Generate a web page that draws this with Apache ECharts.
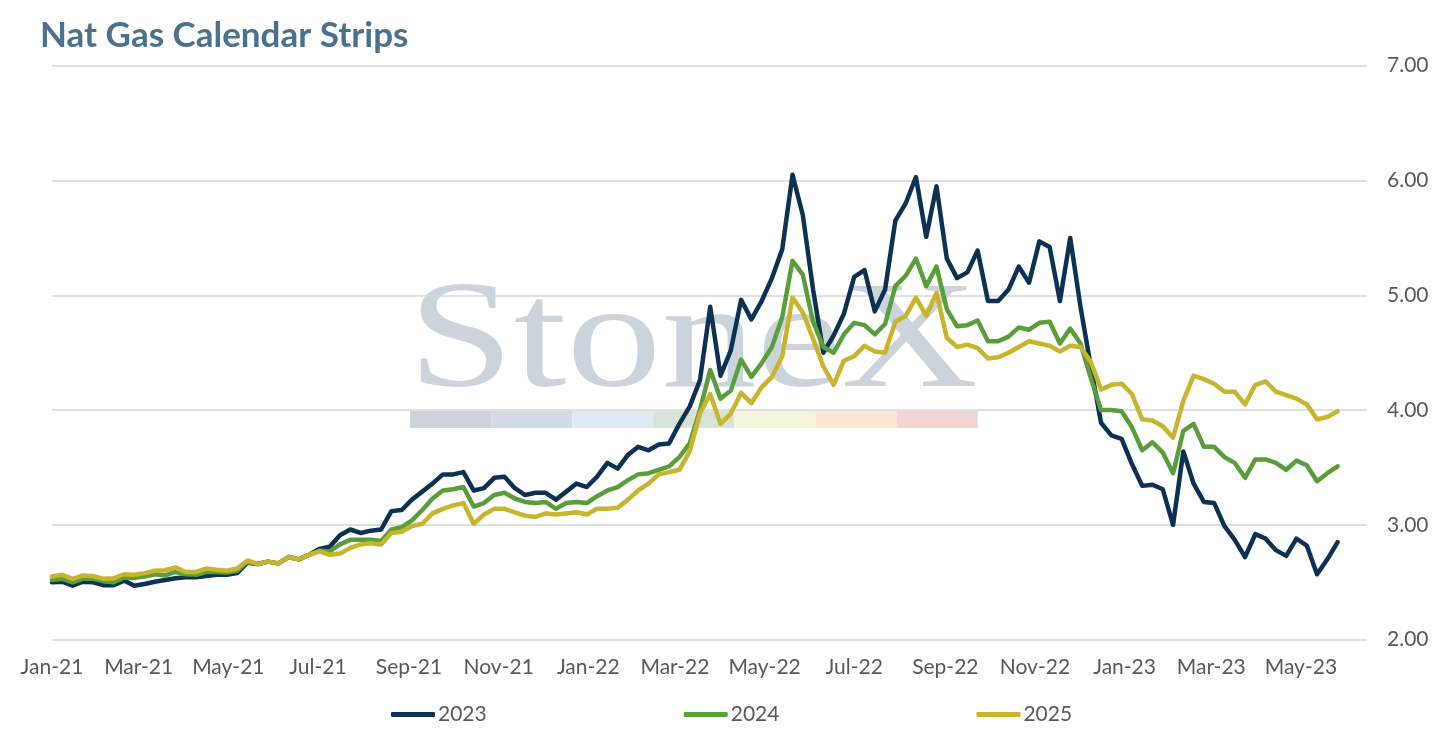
<!DOCTYPE html>
<html>
<head>
<meta charset="utf-8">
<script src="https://cdn.jsdelivr.net/npm/echarts@6/dist/echarts.min.js"></script>
<style>html,body{margin:0;padding:0;background:#fff;}#c{width:1450px;height:732px;}</style>
</head>
<body>
<div id="c"></div>
<script>
// ---- data (weekly samples starting 2021-01-01) ----
const startDate = '2021-01-01';
const stepDays = 7;
const seriesNames = ['2023', '2024', '2025'];
const cal2023 = [2.50,2.505,2.47,2.505,2.50,2.475,2.475,2.515,2.47,2.485,2.505,2.52,2.535,2.543,2.543,2.555,2.565,2.565,2.58,2.67,
2.66,2.68,2.665,2.72,2.70,2.74,2.79,2.81,2.91,2.96,2.93,2.95,2.96,3.12,3.13,3.22,3.29,3.36,3.44,3.44,
3.46,3.30,3.32,3.41,3.42,3.32,3.26,3.28,3.28,3.22,3.29,3.36,3.33,3.42,3.54,3.49,3.61,3.68,3.65,3.70,
3.71,3.88,4.03,4.26,4.90,4.30,4.52,4.96,4.79,4.95,5.15,5.40,6.05,5.70,5.05,4.50,4.65,4.84,5.16,5.22,
4.86,5.05,5.65,5.80,6.03,5.51,5.95,5.32,5.15,5.20,5.39,4.95,4.95,5.05,5.25,5.11,5.47,5.42,4.95,5.50,
4.90,4.38,3.89,3.78,3.75,3.53,3.34,3.35,3.31,3.00,3.64,3.36,3.20,3.19,2.99,2.87,2.72,2.92,2.88,2.78,
2.73,2.88,2.82,2.57,2.70,2.85];
const cal2024 = [2.52,2.53,2.50,2.53,2.53,2.51,2.50,2.54,2.54,2.55,2.57,2.56,2.59,2.57,2.565,2.59,2.59,2.585,2.60,2.68,
2.66,2.68,2.665,2.72,2.70,2.74,2.775,2.77,2.83,2.87,2.87,2.87,2.86,2.96,2.98,3.04,3.13,3.23,3.30,3.31,
3.33,3.16,3.19,3.26,3.28,3.23,3.20,3.19,3.20,3.14,3.19,3.20,3.19,3.25,3.30,3.33,3.39,3.44,3.45,3.48,
3.51,3.59,3.71,4.00,4.35,4.10,4.17,4.44,4.29,4.41,4.55,4.81,5.30,5.18,4.77,4.55,4.50,4.66,4.76,4.74,
4.66,4.75,5.08,5.17,5.32,5.08,5.25,4.88,4.73,4.74,4.78,4.60,4.60,4.64,4.72,4.70,4.76,4.77,4.58,4.71,
4.58,4.28,4.00,4.00,3.99,3.85,3.65,3.72,3.63,3.45,3.82,3.88,3.68,3.68,3.59,3.54,3.41,3.57,3.57,3.54,
3.48,3.56,3.52,3.38,3.45,3.51];
const cal2025 = [2.55,2.565,2.53,2.56,2.555,2.53,2.535,2.57,2.565,2.58,2.60,2.605,2.63,2.59,2.59,2.62,2.61,2.60,2.62,2.69,
2.66,2.68,2.665,2.72,2.70,2.74,2.77,2.74,2.75,2.80,2.83,2.84,2.83,2.93,2.94,2.99,3.01,3.10,3.14,3.17,
3.19,3.01,3.09,3.14,3.14,3.11,3.08,3.07,3.10,3.09,3.10,3.11,3.09,3.14,3.14,3.15,3.22,3.30,3.36,3.44,
3.46,3.48,3.64,3.97,4.14,3.88,3.97,4.15,4.06,4.20,4.29,4.47,4.98,4.85,4.62,4.38,4.22,4.43,4.47,4.56,
4.51,4.50,4.77,4.82,4.98,4.82,5.02,4.63,4.55,4.57,4.54,4.45,4.46,4.50,4.55,4.60,4.58,4.56,4.51,4.56,
4.55,4.42,4.18,4.22,4.23,4.14,3.92,3.91,3.86,3.76,4.08,4.30,4.27,4.23,4.16,4.16,4.05,4.22,4.25,4.16,
4.13,4.10,4.05,3.92,3.94,3.99];
const xTickLabels = ['Jan-21','Mar-21','May-21','Jul-21','Sep-21','Nov-21','Jan-22','Mar-22','May-22','Jul-22','Sep-22','Nov-22','Jan-23','Mar-23','May-23'];
const yTicks = [2, 3, 4, 5, 6, 7];
const axisMinDate = '2021-01-01';
const axisMaxDate = '2023-06-15';
const seriesColors = ['#0c3153', '#5a9e3c', '#c8b42d'];
const watermarkBarColors = ['#cdd4dd','#d3dce6','#dfeaf2','#d6e3d6','#f6f4dd','#f8e7d2','#f2d4d4'];

// ---- helpers ----
const MONTHS = ['Jan','Feb','Mar','Apr','May','Jun','Jul','Aug','Sep','Oct','Nov','Dec'];
function isoToUTC(s){ const p = s.split('-').map(Number); return Date.UTC(p[0], p[1]-1, p[2]); }
function labelToUTC(l){ const parts = l.split('-'); return Date.UTC(2000 + Number(parts[1]), MONTHS.indexOf(parts[0]), 1); }
const DAY = 86400000;
const t0 = isoToUTC(startDate);
function toPairs(arr){ return arr.map((v, i) => [t0 + i * stepDays * DAY, v]); }
const tickTimes = xTickLabels.map(labelToUTC);
function timeLabel(val){
  const idx = tickTimes.indexOf(val);
  if (idx >= 0) return xTickLabels[idx];
  const d = new Date(val);
  return MONTHS[d.getUTCMonth()] + '-' + String(d.getUTCFullYear()).slice(2);
}

const chart = echarts.init(document.getElementById('c'));
const option = {
  backgroundColor: '#ffffff',
  animation: false,
  title: {
    text: 'Nat Gas Calendar Strips',
    left: 35, top: 13,
    textStyle: { fontFamily: 'Lato', fontSize: 35, fontWeight: 'bold', color: '#4a7290' }
  },
  grid: { left: 52, right: 83, top: 65.7, bottom: 92.3 },
  xAxis: {
    type: 'value',
    min: isoToUTC(axisMinDate),
    max: isoToUTC(axisMaxDate),
    axisLine: { show: false },
    axisTick: { show: false },
    splitLine: { show: false },
    axisLabel: {
      customValues: tickTimes,
      hideOverlap: false,
      showMinLabel: true,
      showMaxLabel: true,
      margin: 17,
      fontFamily: 'Lato', fontSize: 21, color: '#595959',
      formatter: timeLabel
    }
  },
  yAxis: {
    type: 'value',
    position: 'right',
    min: yTicks[0], max: yTicks[yTicks.length - 1], interval: 1,
    axisLine: { show: false },
    axisTick: { show: false },
    splitLine: { lineStyle: { color: '#d6d6d6', width: 1.5 } },
    axisLabel: {
      margin: 20,
      fontFamily: 'Lato', fontSize: 21, color: '#595959',
      formatter: v => v.toFixed(2)
    }
  },
  legend: {
    top: 699, left: 386,
    itemWidth: 44, itemHeight: 5, itemGap: 197,
    icon: 'roundRect',
    textStyle: { fontFamily: 'Lato', fontSize: 21, color: '#595959', padding: [0, 0, 0, -2] },
    data: seriesNames
  },
  graphic: [
    {
      type: 'text', z: -10, silent: true,
      x: 408, y: 346, scaleX: 1.25,
      style: {
        text: 'StoneX', x: 0, y: 0,
        font: '152px "Liberation Serif", "DejaVu Serif", serif',
        fill: '#cbd3dd', textAlign: 'left', verticalAlign: 'middle'
      }
    }
  ].concat(watermarkBarColors.map((c, i) => ({
    type: 'rect', z: -10, silent: true,
    shape: { x: 410 + i * 81.1, y: 411, width: 81.1, height: 17 },
    style: { fill: c }
  }))),
  series: [cal2023, cal2024, cal2025].map((arr, i) => ({
    name: seriesNames[i],
    type: 'line',
    data: toPairs(arr),
    showSymbol: false,
    symbol: 'none',
    lineStyle: { width: 4.5, color: seriesColors[i], join: 'round', cap: 'round' },
    itemStyle: { color: seriesColors[i] }
  }))
};
chart.setOption(option);
</script>
</body>
</html>
